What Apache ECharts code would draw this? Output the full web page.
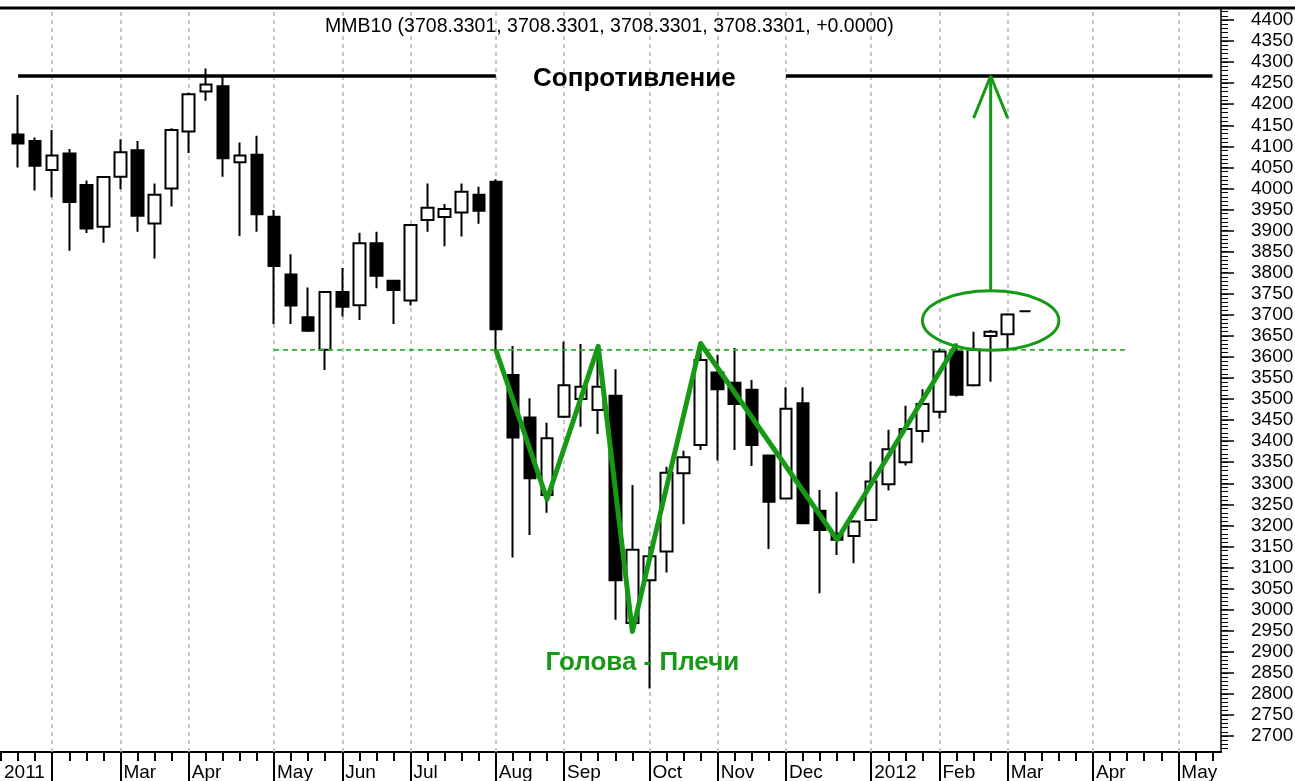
<!DOCTYPE html>
<html>
<head>
<meta charset="utf-8">
<title>MMB10</title>
<script src="https://cdn.jsdelivr.net/npm/echarts@6/dist/echarts.min.js"></script>
<style>
html, body { margin: 0; padding: 0; background: #fff; }
#chart { width: 1295px; height: 781px; }
</style>
</head>
<body>
<div id="chart"></div>
<script>
// недели (пятница), ось X
let weeks = [
    '2011-01-14', '2011-01-21', '2011-01-28', '2011-02-04', '2011-02-11', '2011-02-18', '2011-02-25',
    '2011-03-04', '2011-03-11', '2011-03-18', '2011-03-25', '2011-04-01', '2011-04-08', '2011-04-15',
    '2011-04-22', '2011-04-29', '2011-05-06', '2011-05-13', '2011-05-20', '2011-05-27', '2011-06-03',
    '2011-06-10', '2011-06-17', '2011-06-24', '2011-07-01', '2011-07-08', '2011-07-15', '2011-07-22',
    '2011-07-29', '2011-08-05', '2011-08-12', '2011-08-19', '2011-08-26', '2011-09-02', '2011-09-09',
    '2011-09-16', '2011-09-23', '2011-09-30', '2011-10-07', '2011-10-14', '2011-10-21', '2011-10-28',
    '2011-11-04', '2011-11-11', '2011-11-18', '2011-11-25', '2011-12-02', '2011-12-09', '2011-12-16',
    '2011-12-23', '2011-12-30', '2012-01-06', '2012-01-13', '2012-01-20', '2012-01-27', '2012-02-03',
    '2012-02-10', '2012-02-17', '2012-02-24', '2012-03-02', '2012-03-09', '2012-03-16', '2012-03-23',
    '2012-03-30', '2012-04-06', '2012-04-13', '2012-04-20', '2012-04-27', '2012-05-04', '2012-05-11',
    '2012-05-18', '2012-05-25'
]

// свечи начинаются с этой недели
let firstCandle = '2011-01-21'
let opens = [
    4128, 4113, 4044, 4083, 4008, 3909, 4028, 4091, 3917, 4000, 4135, 4230, 4243, 4062, 4080,
    3933, 3796, 3694, 3617, 3754, 3723, 3870, 3781, 3734, 3925, 3932, 3943, 3985, 4016, 3557,
    3456, 3272, 3458, 3500, 3474, 3508, 2968, 3070, 3138, 3324, 3391, 3563, 3539, 3522, 3366,
    3264, 3490, 3235, 3180, 3175, 3213, 3298, 3350, 3424, 3470, 3613, 3533, 3650, 3654, 3708.33
]
let closes = [
    4107, 4054, 4078, 3968, 3905, 4027, 4086, 3935, 3985, 4139, 4224, 4247, 4072, 4078, 3939,
    3816, 3722, 3662, 3754, 3719, 3870, 3793, 3759, 3913, 3954, 3951, 3992, 3947, 3666, 3409,
    3312, 3407, 3533, 3529, 3529, 3070, 3142, 3127, 3325, 3362, 3593, 3523, 3488, 3391, 3256,
    3477, 3205, 3189, 3166, 3209, 3304, 3381, 3429, 3488, 3613, 3510, 3617, 3660, 3701, 3708.33
]
let lows = [
    4050, 3995, 3979, 3852, 3894, 3871, 3998, 3897, 3834, 3957, 4084, 4208, 4028, 3887, 3897,
    3678, 3678, 3659, 3569, 3696, 3688, 3763, 3678, 3722, 3897, 3863, 3886, 3916, 3617, 3124,
    3177, 3230, 3455, 3434, 3417, 2976, 2948, 2813, 3088, 3203, 3379, 3354, 3379, 3341, 3144,
    3262, 3203, 3039, 3130, 3110, 3211, 3283, 3342, 3397, 3454, 3506, 3530, 3541, 3621, 3708.33
]
let highs = [
    4222, 4121, 4139, 4094, 4019, 4028, 4117, 4113, 4012, 4143, 4227, 4285, 4267, 4109, 4125,
    3949, 3844, 3765, 3756, 3811, 3895, 3897, 3783, 3915, 4012, 3963, 4012, 4004, 4022, 3626,
    3502, 3444, 3636, 3631, 3600, 3571, 3296, 3150, 3339, 3377, 3632, 3605, 3621, 3545, 3368,
    3528, 3528, 3284, 3280, 3212, 3351, 3427, 3484, 3523, 3620, 3632, 3660, 3664, 3704, 3708.33
]

// подписи месяцев
let monthWeeks = [
    '2011-01-14', '2011-02-04', '2011-03-04', '2011-04-01', '2011-05-06', '2011-06-03', '2011-07-01',
    '2011-08-05', '2011-09-02', '2011-10-07', '2011-11-04', '2011-12-02', '2012-01-06', '2012-02-03',
    '2012-03-02', '2012-04-06', '2012-05-11'
]
let monthLabels = ['2011', '', 'Mar', 'Apr', 'May', 'Jun', 'Jul', 'Aug', 'Sep', 'Oct', 'Nov', 'Dec',
    '2012', 'Feb', 'Mar', 'Apr', 'May']

let priceLabels = [2700, 2750, 2800, 2850, 2900, 2950, 3000, 3050, 3100, 3150, 3200, 3250, 3300, 3350,
    3400, 3450, 3500, 3550, 3600, 3650, 3700, 3750, 3800, 3850, 3900, 3950, 4000, 4050, 4100, 4150,
    4200, 4250, 4300, 4350, 4400]
let minorTicks = []
for (let v = 2670; v <= 4420; v += 10) minorTicks.push(v)

// разметка
let resistance = 4267
let resistanceLeft = ['2011-01-21', '2011-08-05']
let resistanceRight = ['2011-12-02', '2012-05-25']
let neckline = 3617
let necklineSpan = ['2011-05-06', '2012-04-20']
let headShoulders = [
    ['2011-08-05', 3617], ['2011-08-26', 3262], ['2011-09-16', 3625], ['2011-09-30', 2948],
    ['2011-10-28', 3632], ['2011-12-23', 3166], ['2012-02-10', 3630]
]
// центр, полуширина в неделях, полувысота в пунктах
let breakoutEllipse = ['2012-02-24', 3686.5, 4, 70.5]
let arrowShaft = [['2012-02-24', 3757], ['2012-02-24', 4267]]
let arrowHead = [['2012-02-17', 4167], ['2012-02-24', 4267], ['2012-03-02', 4167]]

let titleText = 'MMB10 (3708.3301, 3708.3301, 3708.3301, 3708.3301, +0.0000)'
let font = 'Liberation Sans, Arial, sans-serif'
let green = '#169a16'

let startIdx = weeks.indexOf(firstCandle)
let candles = opens.map((o, i) => [weeks[startIdx + i], o, closes[i], lows[i], highs[i]])

let isMonth = function(idx) {
    return monthWeeks.indexOf(weeks[idx]) >= 0
}

let option = {
    animation: false,
    backgroundColor: '#fff',
    title: {
        text: titleText,
        left: 325,
        top: 17,
        padding: 0,
        textStyle: { fontFamily: font, fontSize: 19.5, fontWeight: 'normal', color: '#000' }
    },
    graphic: [{
        type: 'line',
        shape: { x1: 0, y1: 8, x2: 1295, y2: 8 },
        style: { stroke: '#000', lineWidth: 3 },
        silent: true
    }],
    grid: {
        left: -7.5,
        right: 74,
        top: 8,
        bottom: 29,
        containLabel: false,
        outerBoundsMode: 'none'
    },
    xAxis: [{
        type: 'category',
        data: weeks,
        position: 'bottom',
        boundaryGap: true,
        axisLine: { onZero: false, lineStyle: { color: '#000', width: 2 } },
        axisTick: { show: true, alignWithLabel: true, interval: 0, length: 9, lineStyle: { color: '#000', width: 2 } },
        axisLabel: {
            interval: function(idx) { return isMonth(idx) },
            formatter: function(value) {
                let k = monthWeeks.indexOf(value)
                return k >= 0 ? monthLabels[k] : ''
            },
            align: 'left',
            padding: [0, 0, 0, 3],
            margin: 11,
            color: '#000',
            fontFamily: font,
            fontSize: 19
        },
        splitLine: { show: false }
    }, {
        type: 'category',
        data: weeks,
        position: 'bottom',
        boundaryGap: true,
        axisLine: { show: false, onZero: false },
        axisTick: {
            show: true,
            alignWithLabel: true,
            interval: function(idx) { return idx > 0 && isMonth(idx) },
            length: 29,
            lineStyle: { color: '#000', width: 2 }
        },
        axisLabel: { show: false },
        splitLine: { show: false }
    }],
    yAxis: [{
        type: 'value',
        position: 'right',
        min: 2662,
        max: 4428.5,
        axisLine: { show: true, onZero: false, lineStyle: { color: '#000', width: 1.5 } },
        axisTick: { show: true, customValues: priceLabels, length: 13, lineStyle: { color: '#000', width: 1.5 } },
        axisLabel: {
            customValues: priceLabels,
            formatter: function(v) { return String(v) },
            margin: 30,
            color: '#000',
            fontFamily: font,
            fontSize: 19
        },
        splitLine: { show: false }
    }, {
        type: 'value',
        position: 'right',
        min: 2662,
        max: 4428.5,
        axisLine: { show: false, onZero: false },
        axisTick: { show: true, customValues: minorTicks, length: 7, lineStyle: { color: '#000', width: 1 } },
        axisLabel: { show: false },
        splitLine: { show: false }
    }],
    series: [{
        // вертикальная сетка по месяцам
        name: 'grid',
        type: 'line',
        data: [],
        z: 1,
        markLine: {
            silent: true,
            z: 1,
            symbol: ['none', 'none'],
            label: { show: false },
            lineStyle: { color: '#b4b4b4', type: [4, 4], width: 1.5 },
            data: monthWeeks.slice(1).map(w => ({ xAxis: w }))
        }
    }, {
        name: 'MMB10',
        type: 'candlestick',
        data: candles,
        encode: { x: 0, y: [1, 2, 3, 4] },
        barWidth: 12,
        z: 3,
        itemStyle: {
            color: '#fff',
            color0: '#000',
            borderColor: '#000',
            borderColor0: '#000',
            borderColorDoji: '#000',
            borderWidth: 2
        },
        markPoint: {
            silent: true,
            symbol: 'rect',
            symbolSize: 1,
            itemStyle: { color: 'rgba(0,0,0,0)' },
            data: [{
                coord: ['2011-09-30', resistance],
                label: { show: true, position: 'inside', offset: [2, 3], formatter: 'Сопротивление',
                    color: '#000', fontFamily: font, fontSize: 26, fontWeight: 'bold' }
            }, {
                coord: ['2011-10-07', 2878],
                label: { show: true, position: 'inside', offset: [-7, 2], formatter: 'Голова - Плечи',
                    color: green, fontFamily: font, fontSize: 26, fontWeight: 'bold' }
            }]
        }
    }, {
        name: 'resistanceLeft',
        type: 'line',
        data: resistanceLeft.map(w => [w, resistance]),
        symbol: 'none',
        z: 4,
        lineStyle: { color: '#000', width: 3.5 }
    }, {
        name: 'resistanceRight',
        type: 'line',
        data: resistanceRight.map(w => [w, resistance]),
        symbol: 'none',
        z: 4,
        lineStyle: { color: '#000', width: 3.5 }
    }, {
        name: 'neckline',
        type: 'line',
        data: necklineSpan.map(w => [w, neckline]),
        symbol: 'none',
        z: 4,
        lineStyle: { color: '#2fae2f', width: 1.8, type: [5, 4] }
    }, {
        name: 'headShoulders',
        type: 'line',
        data: headShoulders,
        symbol: 'none',
        z: 5,
        lineStyle: { color: green, width: 5, join: 'round' }
    }, {
        name: 'ellipse',
        type: 'custom',
        data: [breakoutEllipse],
        z: 5,
        renderItem: function(params, api) {
            let c = api.coord([api.value(0), api.value(1)])
            let band = api.size([1, 0])[0]
            let rx = band * api.value(2)
            let ry = api.size([0, api.value(3) * 2])[1] / 2
            return {
                type: 'ellipse',
                shape: { cx: c[0], cy: c[1], rx: rx, ry: ry },
                style: { fill: 'none', stroke: green, lineWidth: 3 }
            }
        }
    }, {
        name: 'arrowShaft',
        type: 'line',
        data: arrowShaft,
        symbol: 'none',
        z: 5,
        lineStyle: { color: green, width: 3 }
    }, {
        name: 'arrowHead',
        type: 'line',
        data: arrowHead,
        symbol: 'none',
        z: 5,
        lineStyle: { color: green, width: 3 }
    }]
}

let myChart = echarts.init(document.getElementById('chart'))
myChart.setOption(option)
</script>
</body>
</html>
